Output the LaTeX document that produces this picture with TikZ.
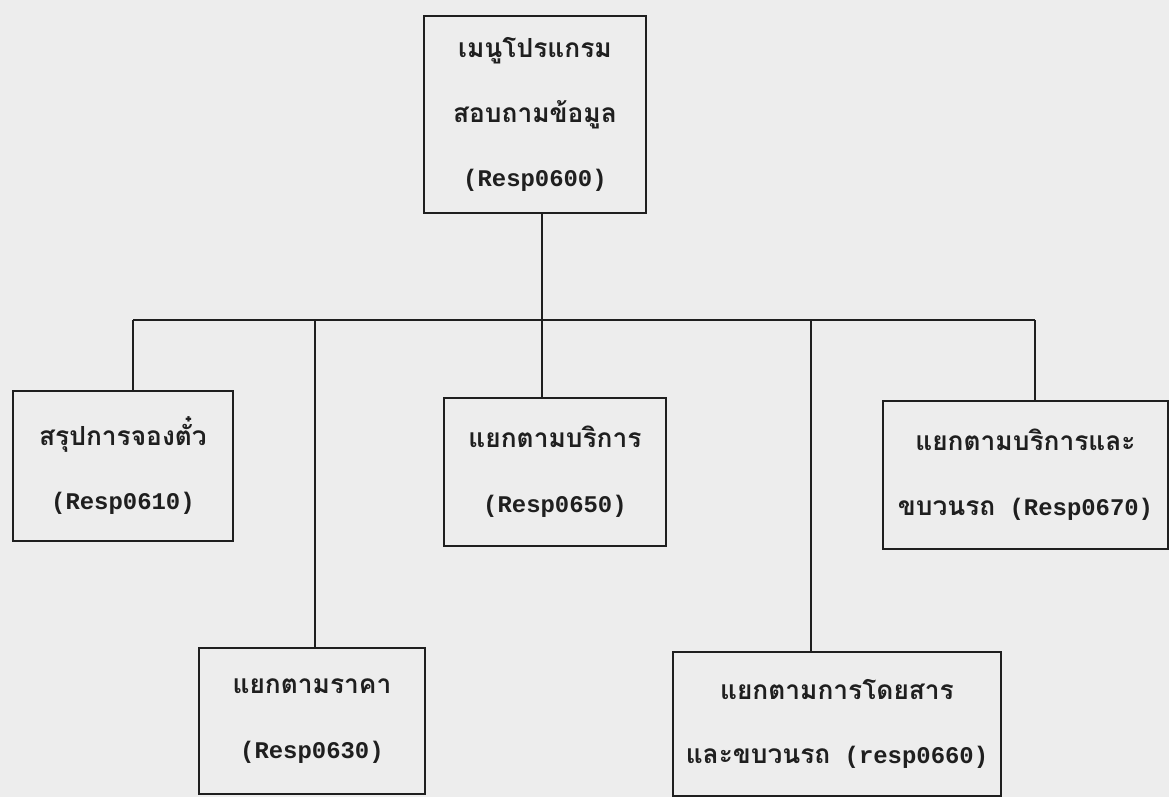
\documentclass[tikz,border=0pt]{standalone}
\usepackage{fontspec}
\setmainfont{Liberation Mono}
\newfontfamily\thaifont[Script=Thai, Scale=1.1]{Loma}
\usepackage{xcolor}
\definecolor{paper}{gray}{0.93}
\definecolor{ink}{gray}{0.12}
\tikzstyle{menubox} = [rectangle, 
anchor=north west, 
align=center, 
inner sep=0pt, 
text=ink, 
font=\fontsize{17}{46}\selectfont\bfseries, 
draw=ink, line width=1.3pt]
\tikzstyle{link} = [draw=ink, line width=1.3pt]

\begin{document}
\begin{tikzpicture}[x=0.025cm, y=-0.025cm]
		\path[use as bounding box, fill=paper] (0,0) rectangle (1169,797);
		
		\node (menu) [menubox, minimum width=5.55cm, minimum height=4.925cm] at (423,15) {{\thaifont เมนูโปรแกรม}\\{\thaifont สอบถามข้อมูล}\\(Resp0600)};
		\node (sum) [menubox, minimum width=5.5cm, minimum height=3.75cm] at (12,390) {{\thaifont สรุปการจองตั๋ว}\\(Resp0610)};
		\node (price) [menubox, minimum width=5.65cm, minimum height=3.65cm] at (198,647) {{\thaifont แยกตามราคา}\\(Resp0630)};
		\node (serv) [menubox, minimum width=5.55cm, minimum height=3.7cm] at (443,397) {{\thaifont แยกตามบริการ}\\(Resp0650)};
		\node (pass) [menubox, minimum width=8.2cm, minimum height=3.6cm] at (672,651) {{\thaifont แยกตามการโดยสาร}\\{\thaifont และขบวนรถ} (resp0660)};
		\node (train) [menubox, minimum width=7.125cm, minimum height=3.7cm] at (882,400) {{\thaifont แยกตามบริการและ}\\{\thaifont ขบวนรถ} (Resp0670)};
		
		\coordinate (t610) at (133,320);
		\coordinate (t630) at (315,320);
		\coordinate (t650) at (542,320);
		\coordinate (t660) at (811,320);
		\coordinate (t670) at (1035,320);
		
		\draw [link](t610) -- (t670);
		\draw [link](menu.south -| t650) -- (t650);
		\draw [link](t610) -- (t610 |- sum.north);
		\draw [link](t630) -- (t630 |- price.north);
		\draw [link](t650) -- (t650 |- serv.north);
		\draw [link](t660) -- (t660 |- pass.north);
		\draw [link](t670) -- (t670 |- train.north);
	\end{tikzpicture}
\end{document}
